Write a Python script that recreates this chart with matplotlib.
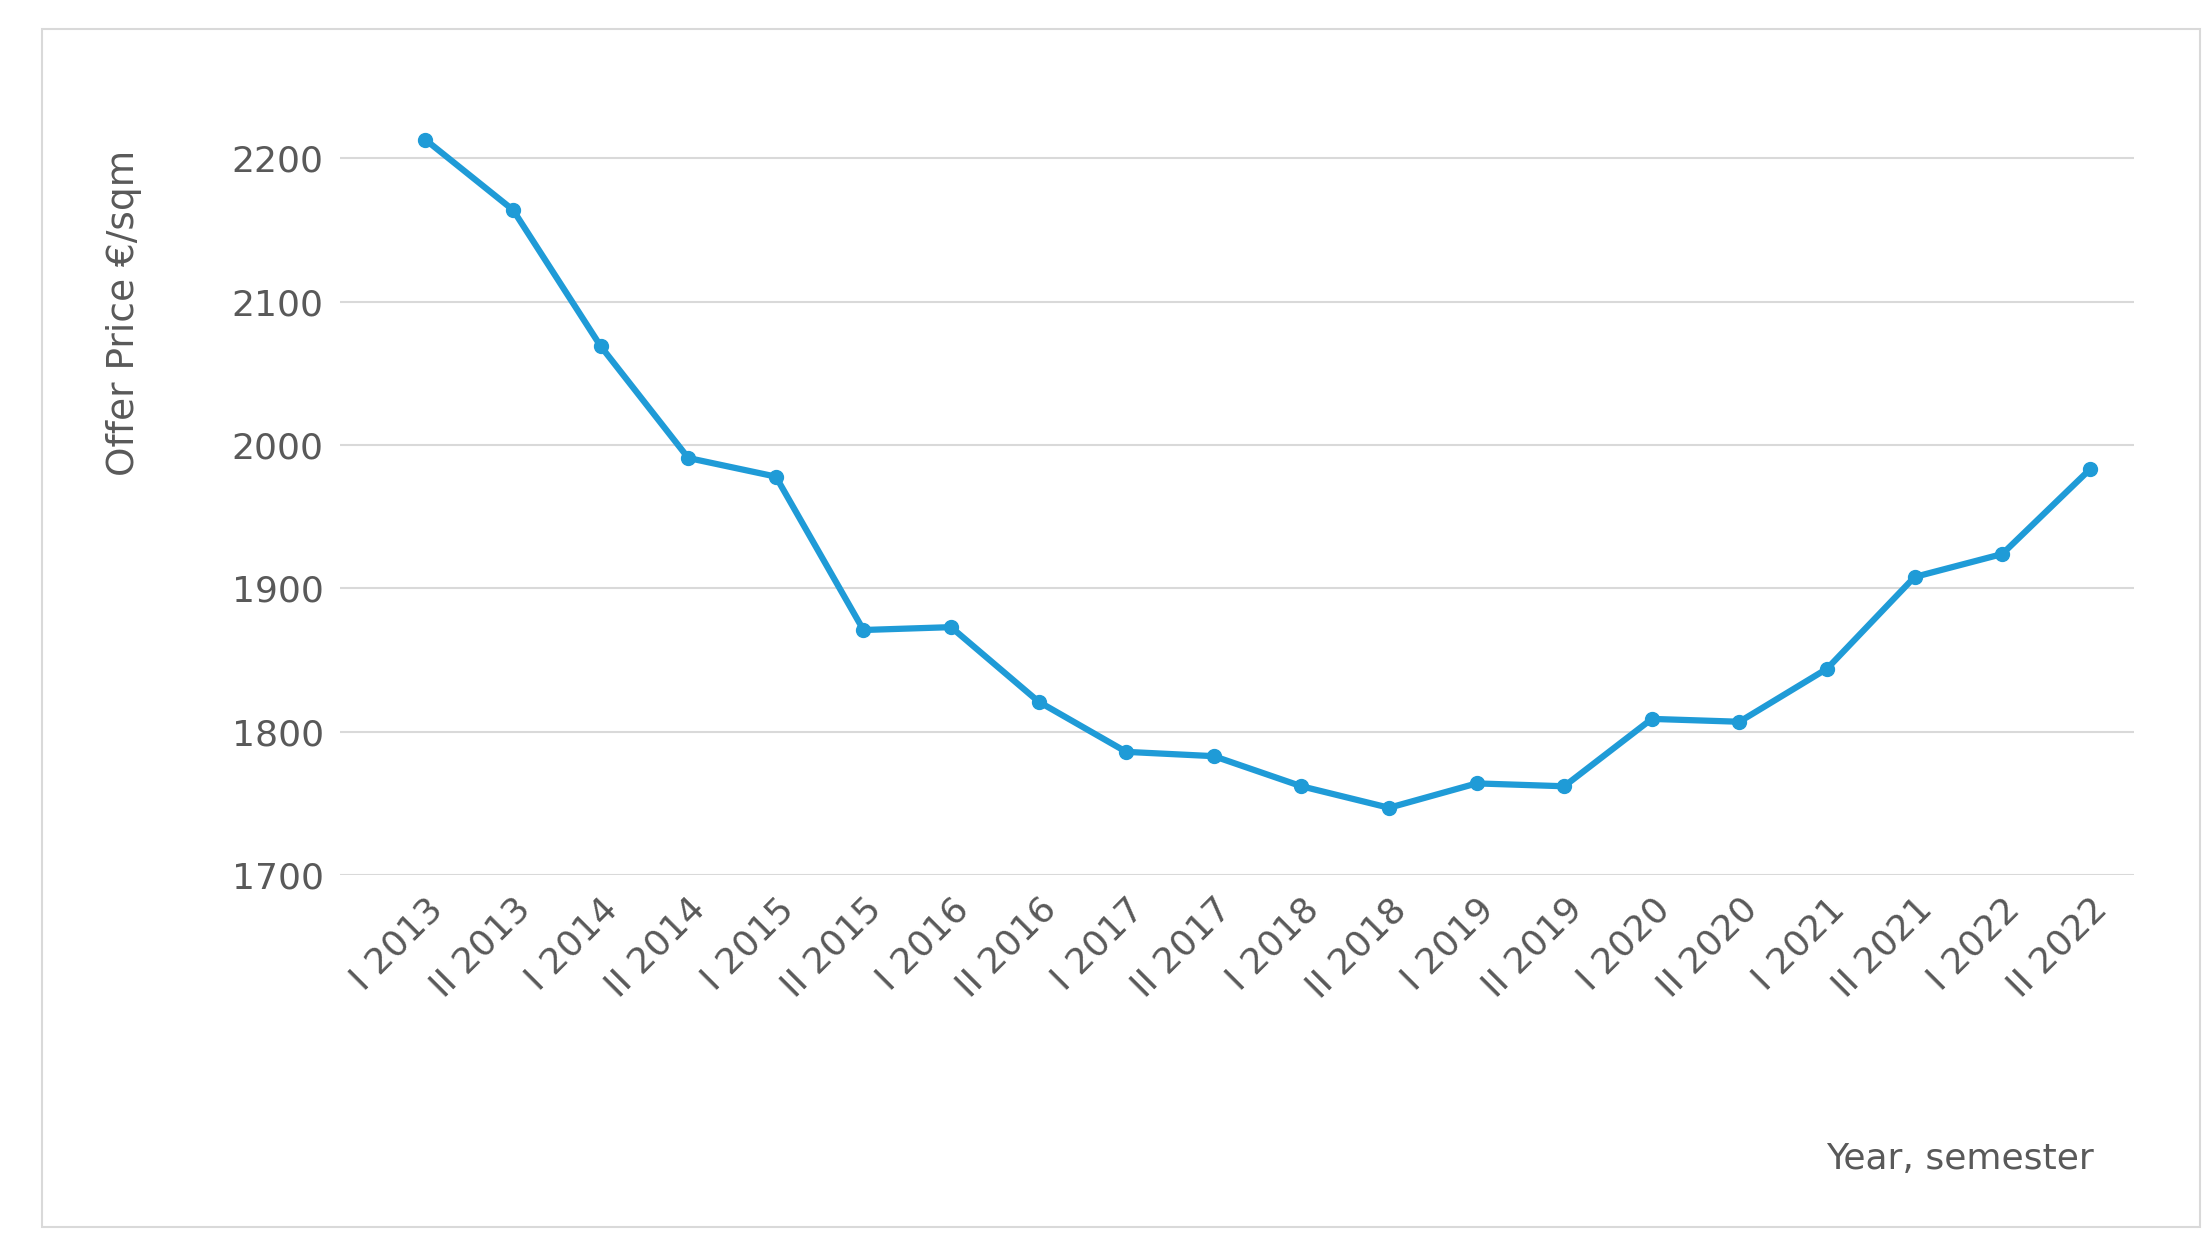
import matplotlib.pyplot as plt
from matplotlib.patches import Rectangle

labels = ['I 2013', 'II 2013', 'I 2014', 'II 2014', 'I 2015', 'II 2015', 'I 2016', 'II 2016',
          'I 2017', 'II 2017', 'I 2018', 'II 2018', 'I 2019', 'II 2019', 'I 2020', 'II 2020',
          'I 2021', 'II 2021', 'I 2022', 'II 2022']
prices = [2213, 2164, 2069, 1991, 1978, 1871, 1873, 1821, 1786, 1783,
          1762, 1747, 1764, 1762, 1809, 1807, 1844, 1908, 1924, 1983]

grey = '#595959'
fig = plt.figure(figsize=(22.11, 12.52), dpi=100)
fig.patches.append(Rectangle((0.019, 0.02), 0.976, 0.957, transform=fig.transFigure,
                             fill=False, edgecolor='#d9d9d9', linewidth=1.5))
ax = fig.add_axes([0.154, 0.301, 0.811, 0.608])

x = list(range(len(labels)))
ax.plot(x, prices, color='#1f9bd7', linewidth=4.5, marker='o', markersize=10)
ax.set_xlim(-0.97, len(labels) - 0.5)
ax.set_ylim(1700, 2231)
ax.set_yticks([1700, 1800, 1900, 2000, 2100, 2200])
ax.grid(axis='y', color='#d9d9d9', linewidth=1.5)
ax.set_axisbelow(True)
for s in ax.spines.values():
    s.set_visible(False)
ax.tick_params(length=0, labelsize=26, labelcolor=grey, pad=12)
ax.set_xticks(x)
ax.set_xticklabels(labels, rotation=45, ha='right', rotation_mode='anchor')

fig.text(0.056, 0.75, 'Offer Price €/sqm', rotation=90, ha='center', va='center',
         fontsize=27, color=grey)
fig.text(0.947, 0.074, 'Year, semester', ha='right', va='center', fontsize=26, color=grey)

fig.savefig('out.png')
